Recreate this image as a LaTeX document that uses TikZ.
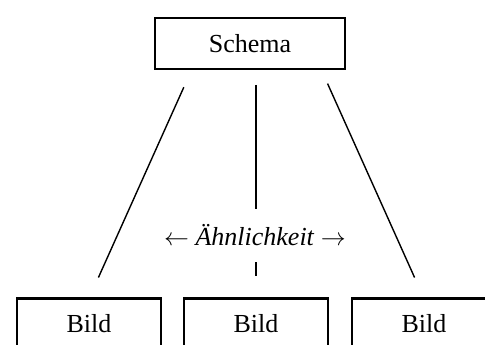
\documentclass[tikz,border=0pt]{standalone}
\usepackage{fontspec}
\setmainfont{Liberation Serif}
\usetikzlibrary{positioning}

\begin{document}
\begin{tikzpicture}[
  x=1pt, y=-1pt,
  font=\fontsize{26}{31}\selectfont,
  box/.style={rectangle, draw, line width=2.6pt, minimum height=51pt, inner sep=0pt, outer sep=0pt},
  bildbox/.style={box, minimum width=144pt},
  link/.style={line width=1.4pt},
]
  \useasboundingbox (0,0) rectangle (485,345);
  \clip (0,0) rectangle (485,345);

  \node[box, minimum width=190pt] (schema) at (250,43.5) {Schema};

  \node[bildbox] (bild2) at (256,324) {Bild};
  \node[bildbox, left=23pt of bild2] (bild1) {Bild};
  \node[bildbox, right=24pt of bild2] (bild3) {Bild};

  \node[inner sep=0pt, minimum height=53pt] (aehn) at (255,235.5)
    {$\leftarrow$ \textit{Ähnlichkeit} $\rightarrow$};

  \draw[link, shorten <=20pt, shorten >=23pt] ([xshift=-58pt]schema.south) -- (bild1.north);
  \draw[link, shorten <=16pt] (schema.south -| bild2) -- (aehn.north -| bild2);
  \draw[link, shorten >=23pt] (aehn.south -| bild2) -- (bild2.north);
  \draw[link, shorten <=16pt, shorten >=23pt] ([xshift=71pt]schema.south) -- (bild3.north);
\end{tikzpicture}
\end{document}
